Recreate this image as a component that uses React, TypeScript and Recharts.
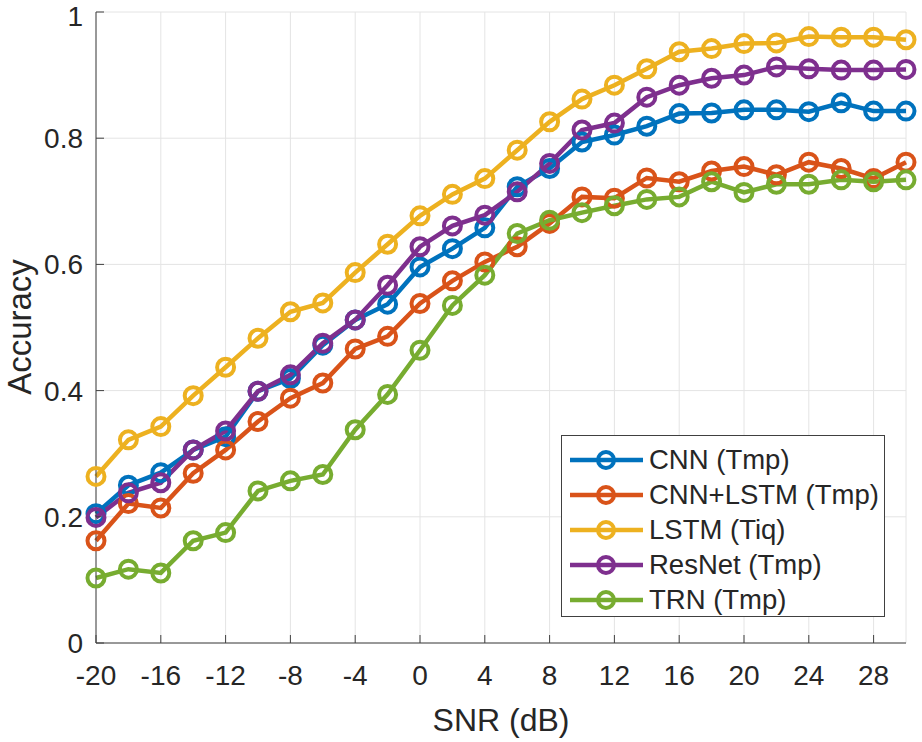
import { LineChart, Line, XAxis, YAxis, CartesianGrid, Legend, Label } from 'recharts';

const snr = [-20, -18, -16, -14, -12, -10, -8, -6, -4, -2, 0, 2, 4, 6, 8, 10, 12, 14, 16, 18, 20, 22, 24, 26, 28, 30];

const cnn = [0.205, 0.25, 0.27, 0.306, 0.327, 0.399, 0.419, 0.472, 0.512, 0.537, 0.596, 0.625, 0.658, 0.723, 0.752, 0.794, 0.805, 0.819, 0.839, 0.84, 0.845, 0.845, 0.842, 0.856, 0.843, 0.843];
const cnnLstm = [0.162, 0.221, 0.214, 0.269, 0.306, 0.351, 0.388, 0.412, 0.466, 0.486, 0.538, 0.574, 0.604, 0.628, 0.665, 0.707, 0.705, 0.737, 0.731, 0.748, 0.755, 0.742, 0.762, 0.752, 0.736, 0.762];
const lstm = [0.264, 0.322, 0.343, 0.392, 0.437, 0.483, 0.525, 0.539, 0.587, 0.632, 0.677, 0.711, 0.736, 0.781, 0.826, 0.862, 0.884, 0.91, 0.937, 0.942, 0.95, 0.951, 0.961, 0.96, 0.96, 0.956];
const resnet = [0.199, 0.238, 0.254, 0.306, 0.336, 0.399, 0.425, 0.475, 0.512, 0.567, 0.628, 0.661, 0.678, 0.715, 0.76, 0.813, 0.824, 0.865, 0.884, 0.895, 0.9, 0.913, 0.91, 0.908, 0.908, 0.909];
const trn = [0.103, 0.117, 0.111, 0.162, 0.175, 0.241, 0.257, 0.267, 0.338, 0.394, 0.464, 0.535, 0.583, 0.649, 0.67, 0.682, 0.693, 0.703, 0.707, 0.731, 0.714, 0.727, 0.727, 0.734, 0.731, 0.734];

const xTicks = [-20, -16, -12, -8, -4, 0, 4, 8, 12, 16, 20, 24, 28];
const yTicks = [0, 0.2, 0.4, 0.6, 0.8, 1];

const series = [
  { key: 'cnn', name: 'CNN (Tmp)', color: '#0072BD', values: cnn },
  { key: 'cnnLstm', name: 'CNN+LSTM (Tmp)', color: '#D95319', values: cnnLstm },
  { key: 'lstm', name: 'LSTM (Tiq)', color: '#EDB120', values: lstm },
  { key: 'resnet', name: 'ResNet (Tmp)', color: '#7E2F8E', values: resnet },
  { key: 'trn', name: 'TRN (Tmp)', color: '#77AC30', values: trn },
];

const data = snr.map((x, i) => {
  const row: any = { snr: x };
  series.forEach(s => { row[s.key] = s.values[i]; });
  return row;
});

const FONT = '"Liberation Sans", Arial, sans-serif';
const AXIS = '#404040';
const TEXT = '#262626';

function LegendBox() {
  return (
    <div style={{
      background: '#fff', border: `1px solid ${AXIS}`, width: 324, height: 182,
      boxSizing: 'border-box', padding: '6px 0 0 7px', fontFamily: FONT,
    }}>
      {series.map(s => (
        <div key={s.key} style={{ display: 'flex', alignItems: 'center', height: 35 }}>
          <svg width={80} height={30}>
            <line x1={1} y1={15} x2={74} y2={15} stroke={s.color} strokeWidth={4.5} />
            <circle cx={37} cy={15} r={8} fill="none" stroke={s.color} strokeWidth={4} />
          </svg>
          <span style={{ fontSize: 27.5, color: TEXT, whiteSpace: 'nowrap' }}>{s.name}</span>
        </div>
      ))}
    </div>
  );
}

export default function App() {
  return (
    <div style={{ position: 'absolute', left: 0, top: 0, background: '#fff' }}>
      <LineChart width={922} height={742} data={data} margin={{ top: 12, right: 16, left: 0, bottom: 0 }}>
        <CartesianGrid stroke="#e4e4e4" strokeWidth={1} />
        <XAxis
          dataKey="snr" type="number" domain={[-20, 30]} ticks={xTicks} height={99}
          stroke={AXIS} tickSize={-8} tickMargin={30}
          tick={{ fontSize: 28, fill: TEXT, fontFamily: FONT }}
        >
          <Label
            content={() => (
              <text x={501} y={731} textAnchor="middle" fontSize={32} fill={TEXT} fontFamily={FONT}>SNR (dB)</text>
            )}
          />
        </XAxis>
        <XAxis
          xAxisId="top" orientation="top" dataKey="snr" type="number" domain={[-20, 30]} ticks={xTicks}
          height={0} stroke={AXIS} tickSize={-8} tick={false}
        />
        <YAxis
          type="number" domain={[0, 1]} ticks={yTicks} width={96} stroke={AXIS}
          tickSize={-8} tickMargin={21}
          tickFormatter={(v: number) => String(v)}
          tick={{ fontSize: 28, fill: TEXT, fontFamily: FONT }}
        >
          <Label
            content={() => (
              <text x={31} y={327} transform="rotate(-90 31 327)" textAnchor="middle" fontSize={33} fill={TEXT} fontFamily={FONT}>Accuracy</text>
            )}
          />
        </YAxis>
        <YAxis
          yAxisId="r" orientation="right" type="number" domain={[0, 1]} ticks={yTicks}
          width={0} stroke={AXIS} tickSize={-8} tick={false}
        />
        {series.map(s => (
          <Line
            key={s.key} dataKey={s.key} name={s.name} stroke={s.color} strokeWidth={4.5}
            dot={{ r: 8.5, strokeWidth: 4, fill: 'none', stroke: s.color }}
            activeDot={false} isAnimationActive={false}
          />
        ))}
        <Legend
          layout="vertical" align="center" verticalAlign="middle"
          wrapperStyle={{ left: 561, top: 435, width: 324 }}
          content={() => <LegendBox />}
        />
      </LineChart>
    </div>
  );
}
